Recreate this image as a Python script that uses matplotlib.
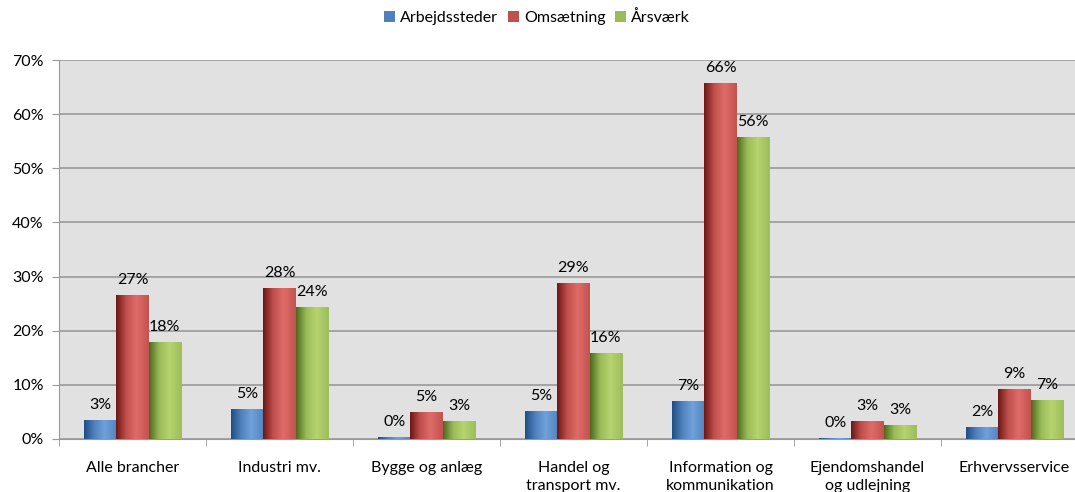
import numpy as np
import matplotlib.pyplot as plt
from matplotlib.colors import LinearSegmentedColormap

plt.rcParams['font.family'] = ['Lato', 'DejaVu Sans']

categories = ["Alle brancher", "Industri mv.", "Bygge og anlæg", "Handel og\ntransport mv.",
              "Information og\nkommunikation", "Ejendomshandel\nog udlejning", "Erhvervsservice"]
series = ["Arbejdssteder", "Omsætning", "Årsværk"]
arbejdssteder = [3.5, 5.5, 0.4, 5.2, 7.0, 0.2, 2.2]
omsaetning = [26.6, 27.9, 5.0, 28.8, 65.8, 3.3, 9.2]
aarsvaerk = [17.9, 24.4, 3.3, 15.9, 55.8, 2.6, 7.2]
labels_a = ["3%", "5%", "0%", "5%", "7%", "0%", "2%"]
labels_o = ["27%", "28%", "5%", "29%", "66%", "3%", "9%"]
labels_s = ["18%", "24%", "3%", "16%", "56%", "3%", "7%"]

colors = ["#4F81BD", "#C0504D", "#9BBB59"]
darks = ["#1F4E85", "#6E1715", "#4E6B1E"]
lights = ["#6FA0DA", "#DE6B68", "#B5D36E"]

fig = plt.figure(figsize=(10.75, 4.92), dpi=100)
ax = fig.add_axes([59 / 1075, 1 - 439 / 492, 1029 / 1075, 379 / 492])
ax.set_facecolor("#E1E1E1")

x = np.arange(len(categories))
w = 0.22
data = [arbejdssteder, omsaetning, aarsvaerk]
labs = [labels_a, labels_o, labels_s]
shape = np.concatenate([np.linspace(0, 1, 40), np.linspace(1, 0.55, 24)])

for i, (vals, lab) in enumerate(zip(data, labs)):
    cmap = LinearSegmentedColormap.from_list("c%d" % i, [darks[i], colors[i], lights[i]])
    bars = ax.bar(x + (i - 1) * w, vals, w, color=colors[i], label=series[i], zorder=3)
    for b, v, t in zip(bars, vals, lab):
        bx = b.get_x()
        im = ax.imshow(shape[np.newaxis, :], cmap=cmap, aspect="auto", zorder=3.5,
                       extent=[bx, bx + w, 0, v], vmin=0, vmax=1)
        im.set_clip_path(b)
        ax.text(bx + w / 2, v + 1.5, t, ha="center", va="bottom", fontsize=11.5, zorder=5)

ax.set_xlim(-0.5, len(categories) - 0.5)
ax.set_ylim(0, 70)
ax.set_yticks(np.arange(0, 71, 10))
ax.set_yticklabels(["%d%%" % v for v in range(0, 71, 10)], fontsize=11.5)
ax.set_xticks(x)
ax.set_xticklabels(categories, fontsize=11.5, linespacing=1.3)
ax.set_xticks(np.arange(-0.5, len(categories), 1), minor=True)
ax.tick_params(axis="x", which="major", length=0, pad=16)
ax.tick_params(axis="x", which="minor", length=5, color="#999999")
ax.tick_params(axis="y", length=5, color="#999999", pad=6)
ax.grid(axis="y", color="#999999", linewidth=1.2, zorder=1)
for s in ax.spines.values():
    s.set_color("#999999")
ax.spines["top"].set_visible(False)

ax.legend(loc="center", bbox_to_anchor=((537 - 59) / 1029, (439 - 18) / 379), ncol=3,
          frameon=False, fontsize=11.5, handlelength=0.7, handleheight=0.7, handletextpad=0.3,
          columnspacing=0.6)

fig.savefig("out.png", dpi=100)
